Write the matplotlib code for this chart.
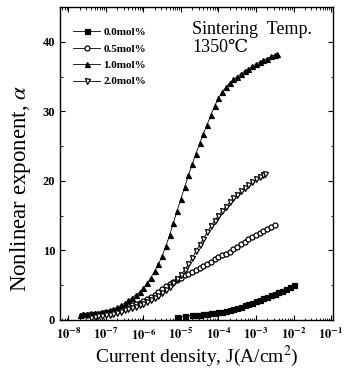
import matplotlib
matplotlib.use('Agg')
import matplotlib.pyplot as plt
import matplotlib.ticker as mticker
import numpy as np

plt.rcParams['font.family'] = ['Liberation Serif', 'DejaVu Serif']
plt.rcParams['mathtext.fontset'] = 'stix'

# log10 of current density (A/cm2) and nonlinear exponent
logj_00 = [-5.1, -4.9, -4.7, -4.6, -4.5, -4.4, -4.3, -4.2, -4.1, -4.0, -3.9, -3.8, -3.7, -3.6,
           -3.5, -3.4, -3.3, -3.2, -3.1, -3.0, -2.9, -2.8, -2.7, -2.6, -2.5, -2.4, -2.3, -2.2,
           -2.1, -2.0]
alpha_00 = [0.45, 0.55, 0.65, 0.7, 0.75, 0.8, 0.9, 0.95, 1.0, 1.1, 1.2, 1.3, 1.45, 1.6,
            1.75, 1.9, 2.1, 2.3, 2.5, 2.7, 2.9, 3.1, 3.3, 3.6, 3.8, 4.0, 4.2, 4.5,
            4.8, 5.0]

logj_05 = [-7.6, -7.5, -7.4, -7.3, -7.2, -7.1, -7.0, -6.9, -6.8, -6.7, -6.6, -6.5, -6.4, -6.3,
           -6.2, -6.1, -6.0, -5.9, -5.8, -5.7, -5.6, -5.5, -5.4, -5.3, -5.2, -5.1, -5.0, -4.9,
           -4.8, -4.7, -4.6, -4.5, -4.4, -4.3, -4.2, -4.1, -4.0, -3.9, -3.8, -3.7, -3.6, -3.5,
           -3.4, -3.3, -3.2, -3.1, -3.0, -2.9, -2.8, -2.7, -2.6, -2.5]
alpha_05 = [0.7, 0.75, 0.8, 0.85, 0.9, 1.0, 1.1, 1.15, 1.3, 1.4, 1.6, 1.8, 1.95, 2.1,
            2.3, 2.5, 2.7, 3.0, 3.3, 3.6, 4.0, 4.5, 4.9, 5.2, 5.5, 5.8, 6.1, 6.4,
            6.6, 6.9, 7.2, 7.5, 7.8, 8.1, 8.4, 8.7, 9.0, 9.3, 9.5, 9.8, 10.2, 10.5,
            10.9, 11.2, 11.6, 11.9, 12.2, 12.5, 12.8, 13.1, 13.4, 13.7]

logj_10 = [-7.7, -7.6, -7.5, -7.4, -7.3, -7.2, -7.1, -7.0, -6.9, -6.8, -6.7, -6.6, -6.5, -6.4,
           -6.3, -6.2, -6.1, -6.0, -5.9, -5.8, -5.7, -5.6, -5.5, -5.4, -5.3, -5.2, -5.1, -5.0,
           -4.9, -4.8, -4.7, -4.6, -4.5, -4.4, -4.3, -4.2, -4.1, -4.0, -3.9, -3.8, -3.7, -3.6,
           -3.5, -3.4, -3.3, -3.2, -3.1, -3.0, -2.9, -2.8, -2.7, -2.6, -2.5, -2.44]
alpha_10 = [0.7, 0.8, 0.85, 0.9, 1.0, 1.05, 1.1, 1.2, 1.4, 1.6, 1.8, 2.1, 2.4, 2.8,
            3.2, 3.6, 4.0, 4.6, 5.3, 6.1, 7.0, 8.0, 9.2, 10.6, 12.2, 14.0, 15.7, 17.4,
            19.1, 20.8, 22.4, 23.9, 25.4, 26.8, 28.1, 29.5, 30.8, 31.9, 32.8, 33.5, 34.1, 34.6,
            35.0, 35.4, 35.8, 36.1, 36.5, 36.8, 37.1, 37.4, 37.6, 37.9, 38.1, 38.2]

logj_20 = [-7.4, -7.3, -7.2, -7.1, -7.0, -6.9, -6.8, -6.7, -6.6, -6.5, -6.4, -6.3, -6.2, -6.1,
           -6.0, -5.9, -5.8, -5.7, -5.6, -5.5, -5.4, -5.3, -5.2, -5.1, -5.0, -4.9, -4.8, -4.7,
           -4.6, -4.5, -4.4, -4.3, -4.2, -4.1, -4.0, -3.9, -3.8, -3.7, -3.6, -3.5, -3.4, -3.3,
           -3.2, -3.1, -3.0, -2.9, -2.8, -2.76]
alpha_20 = [0.3, 0.4, 0.5, 0.55, 0.65, 0.75, 0.9, 1.05, 1.2, 1.4, 1.55, 1.7, 1.9, 2.1,
            2.3, 2.6, 2.9, 3.2, 3.5, 3.9, 4.3, 4.8, 5.3, 5.9, 6.5, 7.2, 8.0, 8.9,
            9.9, 10.8, 11.7, 12.6, 13.5, 14.3, 15.0, 15.7, 16.3, 16.9, 17.5, 18.0, 18.5, 19.0,
            19.4, 19.8, 20.2, 20.5, 20.8, 21.0]

series = [
    (logj_00, alpha_00, 's', 'k', '0.0mol%'),
    (logj_05, alpha_05, 'o', 'white', '0.5mol%'),
    (logj_10, alpha_10, '^', 'k', '1.0mol%'),
    (logj_20, alpha_20, 'v', 'white', '2.0mol%'),
]

fig = plt.figure(figsize=(3.45, 3.72), dpi=100)
ax = fig.add_axes([0.174, 0.140, 0.791, 0.841])

for lj, a, mk, fc, lab in series:
    ax.plot(10.0 ** np.array(lj), a, marker=mk, color='k', mfc=fc, mec='k',
            ms=3.6, mew=0.9, lw=0.6, label=lab)

ax.set_xscale('log')
ax.set_xlim(10 ** -8.22, 10 ** -0.95)
ax.set_ylim(0, 45)
ax.set_yticks([0, 10, 20, 30, 40])
ax.yaxis.set_minor_locator(mticker.MultipleLocator(5))
ax.xaxis.set_major_locator(mticker.FixedLocator([10.0 ** k for k in range(-8, 0)]))
ax.xaxis.set_minor_locator(mticker.LogLocator(base=10, subs=np.arange(2, 10), numticks=20))
ax.xaxis.set_minor_formatter(mticker.NullFormatter())
ax.xaxis.set_major_formatter(mticker.FuncFormatter(
    lambda v, p: r'$\mathbf{10^{%d}}$' % round(np.log10(v))))
ax.tick_params(which='both', direction='in', top=True, right=True)
ax.tick_params(which='major', length=3.5, width=0.8, labelsize=9)
ax.tick_params(axis='x', which='major', pad=5)
ax.tick_params(which='minor', length=1.8, width=0.6)
for lbl in ax.get_yticklabels():
    lbl.set_fontweight('bold')
for s in ax.spines.values():
    s.set_linewidth(1.0)

ax.set_xlabel('Current density, J(A/cm$^2$)', fontsize=14, labelpad=1)
ax.set_ylabel(r'Nonlinear exponent, $\alpha$', fontsize=16.5)
ax.yaxis.set_label_coords(-0.1, 0.42)

ax.legend(loc='upper left', bbox_to_anchor=(0.02, 0.96), frameon=False,
          handlelength=2.4, handletextpad=0.3, labelspacing=0.6, borderaxespad=0.3,
          prop={'weight': 'bold', 'size': 8})
ax.text(0.485, 0.955, 'Sintering  Temp.\n1350\u2103', transform=ax.transAxes,
        fontsize=13, va='top', ha='left', linespacing=1.05)

fig.savefig('out.png', dpi=100)
